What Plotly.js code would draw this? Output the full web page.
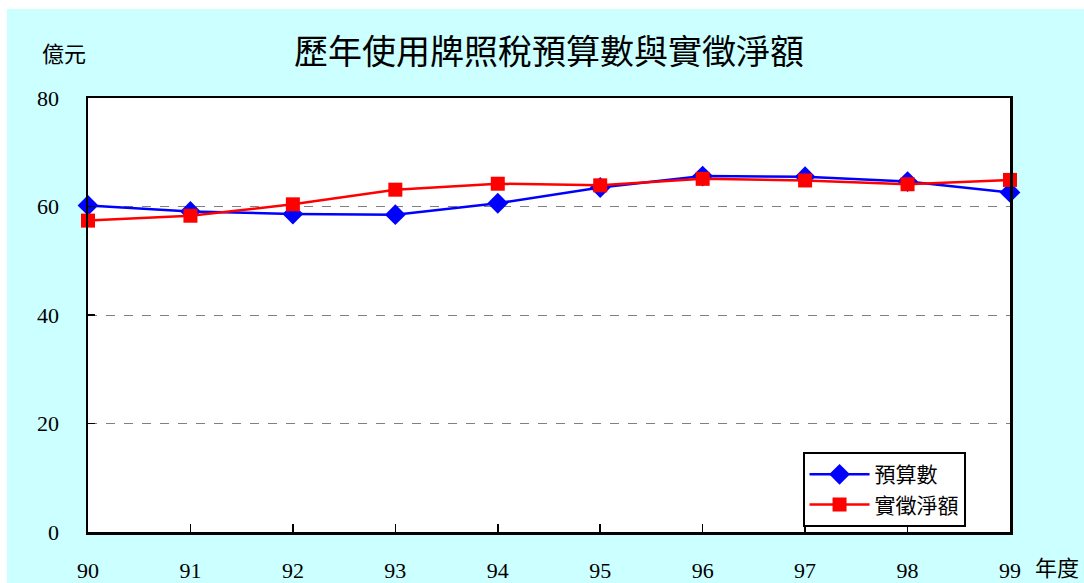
<!DOCTYPE html>
<html><head><meta charset="utf-8">
<script src="https://cdn.plot.ly/plotly-3.0.1.min.js"></script>
<style>
html,body{margin:0;padding:0;background:#fff;}
#chart{position:absolute;left:7px;top:9px;width:1077px;height:574px;}
</style></head><body>
<div id="chart"></div>
<script>
var years = [90, 91, 92, 93, 94, 95, 96, 97, 98, 99];
var budget = [60.2, 59.1, 58.6, 58.5, 60.6, 63.5, 65.6, 65.5, 64.6, 62.6];
var actual = [57.4, 58.3, 60.4, 63.1, 64.2, 63.9, 65.1, 64.8, 64.1, 64.9];
var yTicks = [0, 20, 40, 60, 80];
var FONT = 'Liberation Serif, Noto Sans CJK TC, serif';

var traces = [
  {x: years, y: budget, name: '預算數', type: 'scatter', mode: 'lines+markers',
   line: {color: '#0000FF', width: 2.5}, marker: {symbol: 'diamond', size: 16, color: '#0000FF'}, cliponaxis: false},
  {x: years, y: actual, name: '實徵淨額', type: 'scatter', mode: 'lines+markers',
   line: {color: '#FF0000', width: 2.5}, marker: {symbol: 'square', size: 14, color: '#FF0000'}, cliponaxis: false}
];

var layout = {
  width: 1077, height: 574,
  margin: {l: 81, r: 74, t: 89, b: 51},
  paper_bgcolor: '#CCFFFF', plot_bgcolor: '#FFFFFF',
  font: {family: FONT, size: 20, color: '#000'},
  title: {text: '歷年使用牌照稅預算數與實徵淨額', font: {family: FONT, size: 34, color: '#000'},
          x: 0.5, xref: 'paper', xanchor: 'center', y: 0.925, yanchor: 'middle'},
  xaxis: {range: [90, 99], tickvals: years, ticktext: years.map(String), showgrid: false, zeroline: false,
          showline: true, mirror: true, linecolor: '#000', linewidth: 2.5,
          ticks: 'inside', ticklen: 8, tickcolor: '#000', tickwidth: 1.5,
          ticklabelstandoff: 17, tickfont: {family: FONT, size: 22}},
  yaxis: {range: [0, 80], tickvals: yTicks, showgrid: true, gridcolor: '#808080', griddash: 'dash', gridwidth: 1,
          zeroline: false, showline: true, mirror: true, linecolor: '#000', linewidth: 2.5,
          ticks: 'inside', ticklen: 7, tickcolor: '#000', tickwidth: 1.5,
          ticklabelstandoff: 22, tickfont: {family: FONT, size: 22}},
  legend: {x: 0.775, y: 0.184, xanchor: 'left', yanchor: 'top', bgcolor: '#FFFFFF', bordercolor: '#000', borderwidth: 2,
           font: {family: FONT, size: 21}, itemwidth: 60, tracegroupgap: 0},
  showlegend: true,
  annotations: [
    {text: '億元', xref: 'paper', yref: 'paper', x: 0, y: 1, xanchor: 'center', yanchor: 'middle',
     xshift: -24, yshift: 44, showarrow: false, font: {family: FONT, size: 22}},
    {text: '年度', xref: 'paper', yref: 'paper', x: 1, y: 0, xanchor: 'center', yanchor: 'middle',
     xshift: 47, yshift: -36, showarrow: false, font: {family: FONT, size: 22}}
  ]
};
Plotly.newPlot('chart', traces, layout, {displayModeBar: false, staticPlot: true});
</script>
</body></html>
